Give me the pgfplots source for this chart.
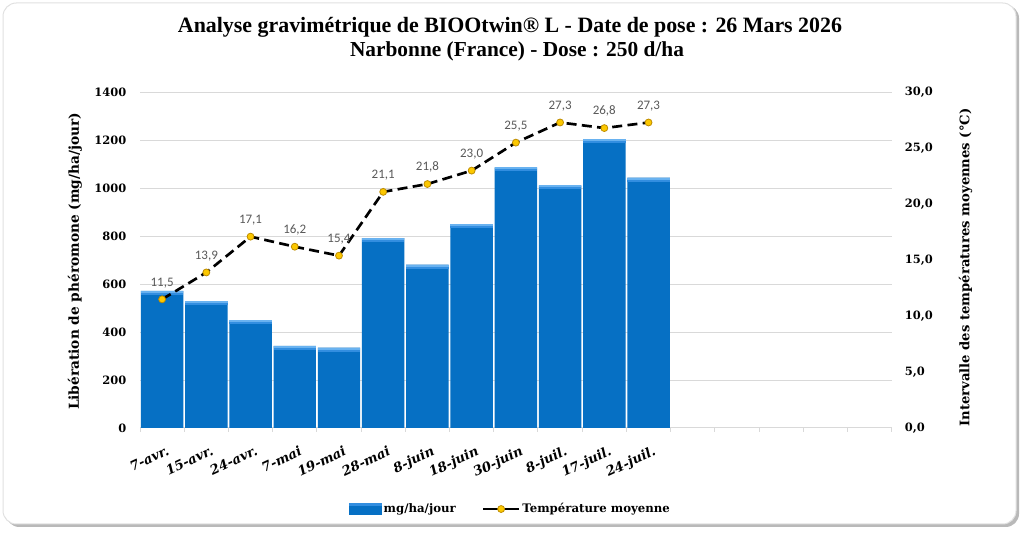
\documentclass[border=0pt]{standalone}
\usepackage{fontspec}
\setmainfont{DejaVu Serif}
\newfontfamily\titlefont{Liberation Serif}
\newfontfamily\calibri{Carlito}
\usepackage{pgfplots}
\usepackage{pgfplotstable}
\pgfplotsset{compat=1.18}
\usetikzlibrary{plotmarks}
\definecolor{barblue}{RGB}{6,112,196}
\definecolor{bevtop}{RGB}{105,178,240}
\definecolor{bevmid}{RGB}{50,142,224}
\definecolor{gridgray}{RGB}{217,217,217}
\definecolor{labelgray}{RGB}{89,89,89}
\definecolor{markgold}{RGB}{252,200,0}
\definecolor{markedge}{RGB}{190,140,0}
\definecolor{shadowgray}{RGB}{185,185,185}
\definecolor{bordergray}{RGB}{225,225,225}
\pgfdeclareplotmark{bevel}{%
  \pgfsetfillcolor{bevmid}%
  \pgfpathrectangle{\pgfpoint{-15.9pt}{-3pt}}{\pgfpoint{31.8pt}{3pt}}\pgfusepath{fill}%
  \pgfsetfillcolor{bevtop}%
  \pgfpathrectangle{\pgfpoint{-15.9pt}{-1.4pt}}{\pgfpoint{31.8pt}{1.4pt}}\pgfusepath{fill}}
\pgfplotsset{
  templegend/.style={legend image code/.code={\draw[mark repeat=2,mark phase=2,##1, solid] plot coordinates {(0pt,0pt) (13.5pt,0pt) (27pt,0pt)};}},
  barlegend/.style={legend image code/.code={\fill[barblue] (0pt,-4.1pt) rectangle (24pt,4.1pt); \fill[bevmid] (0pt,2.6pt) rectangle (24pt,4.1pt);}},
}
\pgfplotstableread{
x  val
0  572
1  528
2  450
3  342
4  335
5  792
6  681
7  850
8  1087
9  1012
10 1204
11 1044
}\barsdata
\pgfplotstableread{
x  t
0  11.5
1  13.9
2  17.1
3  16.2
4  15.4
5  21.1
6  21.8
7  23.0
8  25.5
9  27.3
10 26.8
11 27.3
}\tempdata
\begin{document}
\begin{tikzpicture}
\useasboundingbox (0,0) rectangle (768pt,401.25pt);
% frame
\fill[shadowgray, rounded corners=10pt] (4.5pt,6pt) rectangle (764.25pt,397.5pt);
\filldraw[fill=white, draw=bordergray, line width=0.75pt, rounded corners=10pt] (2.25pt,8.25pt) rectangle (762pt,399pt);
% title
\node[anchor=base, inner sep=0pt] at (382.5pt,376.9pt) {\resizebox{498pt}{!}{\titlefont\bfseries Analyse gravimétrique de BIOOtwin® L - Date de pose : 26 Mars 2026}};
\node[anchor=base, inner sep=0pt] at (387.75pt,358.5pt) {\resizebox{250.5pt}{!}{\titlefont\bfseries Narbonne (France) - Dose : 250 d/ha}};
\begin{axis}[
  at={(105pt,80.25pt)}, anchor=south west,
  scale only axis, width=563.8pt, height=251.8pt,
  xmin=-0.5, xmax=16.5, ymin=0, ymax=1400,
  axis x line*=bottom, axis y line*=left,
  x axis line style={draw=gridgray, line width=0.75pt, -},
  y axis line style={draw=none},
  ytick={0,200,...,1400},
  ymajorgrids, major grid style={draw=gridgray, line width=0.75pt},
  major y tick style={draw=none},
  xtick={0,...,11},
  xticklabels={7-avr.,15-avr.,24-avr.,7-mai,19-mai,28-mai,8-juin,18-juin,30-juin,8-juil.,17-juil.,24-juil.},
  major x tick style={draw=none},
  minor xtick={-0.5,0.5,...,16.5},
  minor x tick style={draw=gridgray, line width=0.75pt},
  minor tick length=3pt,
  tick align=outside,
  xticklabel style={font=\bfseries\itshape\fontsize{9.9}{10}\selectfont, rotate=25, anchor=north east, inner sep=1pt, yshift=-8pt},
  yticklabel style={font=\bfseries\fontsize{8.6}{10}\selectfont, xshift=-2.5pt},
  /pgf/number format/assume math mode=true,
  /pgf/number format/1000 sep={},
  ylabel={\resizebox{222.75pt}{!}{\bfseries Libération de phéromone (mg/ha/jour)}},
  ylabel style={at={(axis description cs:-0.0865,0.496)}, anchor=center},
]
\addplot[ybar, bar width=0.96, fill=barblue, draw=none] table[x=x, y=val] {\barsdata};
\addplot[only marks, mark=bevel] table[x=x, y=val] {\barsdata};
\end{axis}
\begin{axis}[
  at={(105pt,80.25pt)}, anchor=south west,
  scale only axis, width=563.8pt, height=251.8pt,
  xmin=-0.5, xmax=16.5, ymin=0, ymax=30,
  hide x axis,
  axis y line*=right,
  y axis line style={draw=none},
  major y tick style={draw=none},
  ytick={0,5,...,30},
  tick align=outside,
  yticklabel style={font=\bfseries\fontsize{8.6}{10}\selectfont, xshift=2pt,
    /pgf/number format/fixed, /pgf/number format/fixed zerofill,
    /pgf/number format/precision=1, /pgf/number format/use comma},
  /pgf/number format/assume math mode=true,
  ylabel={\resizebox{238.5pt}{!}{\bfseries Intervalle des températures moyennes (°C)}},
  ylabel style={at={(axis description cs:1.0982,0.478)}, anchor=center},
  legend columns=2,
  legend style={at={(axis description cs:0.4929,-0.2413)}, anchor=center, draw=none, fill=none,
    font=\bfseries\fontsize{8.8}{10}\selectfont,
    /tikz/every even column/.append style={column sep=18pt},
    nodes={inner sep=1.5pt}},
]
\addlegendimage{barlegend}
\addlegendentry{mg/ha/jour}
\addplot[black, line width=2pt, dash pattern=on 7.5pt off 4pt,
  mark=*, mark size=2.6pt, mark options={solid, fill=markgold, draw=markedge, line width=0.6pt},
  nodes near coords={\pgfmathprintnumber[fixed,fixed zerofill,precision=1,use comma,assume math mode=true]{\pgfplotspointmeta}},
  every node near coord/.append style={font=\calibri\fontsize{9.75}{10}\selectfont, text=labelgray, anchor=south, yshift=5pt},
  templegend
  ] table[x=x, y=t] {\tempdata};
\addlegendentry{Température moyenne}
\end{axis}
\end{tikzpicture}
\end{document}
